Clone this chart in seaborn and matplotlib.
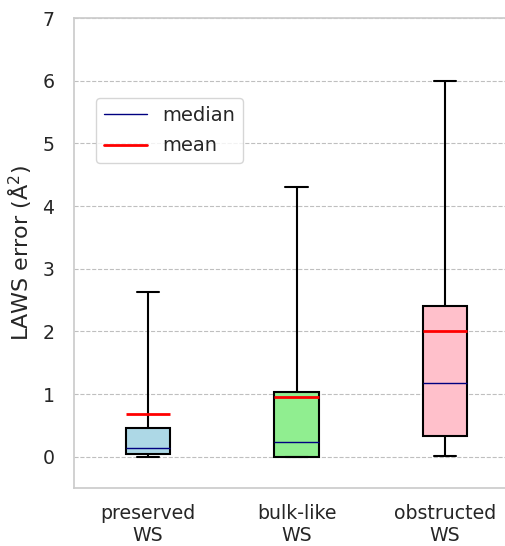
import numpy as np
import pandas as pd
import matplotlib
matplotlib.use("Agg")
import matplotlib.pyplot as plt
from matplotlib.lines import Line2D
import seaborn as sns

# five-number summaries (min, q1, median, q3, max)
categories = ['preserved\nWS', 'bulk-like\nWS', 'obstructed\nWS']
mins = [0.00, 0.00, 0.02]
q1s = [0.04, 0.00, 0.33]
medians = [0.14, 0.23, 1.18]
q3s = [0.46, 1.03, 2.41]
maxs = [2.63, 4.30, 6.00]
means = [0.68, 0.96, 2.01]
box_colors = ['lightblue', 'lightgreen', 'pink']

# with 5 points per group, the quartiles fall exactly on the given values
rows = []
for cat, a, b, c, d, e in zip(categories, mins, q1s, medians, q3s, maxs):
    for v in (a, b, c, d, e):
        rows.append({'group': cat, 'error': v})
df = pd.DataFrame(rows)

sns.set_theme(style="whitegrid", font_scale=1.2)
fig = plt.figure(figsize=(5.06, 5.46), dpi=100)
ax = fig.add_axes([0.146, 0.106, 0.88, 0.861])

sns.boxplot(data=df, x='group', y='error', hue='group', palette=box_colors,
            order=categories, width=0.3, whis=(0, 100), legend=False, ax=ax,
            saturation=1, linecolor='black', linewidth=1.5,
            medianprops={'color': 'navy', 'linewidth': 1.0},
            capprops={'color': 'black'})

for i, m in enumerate(means):
    ax.hlines(m, i - 0.15, i + 0.15, color='red', linewidth=2, zorder=5)

ax.set_xlim(-0.5, 2.5)
ax.set_ylim(-0.5, 7)
ax.set_xlabel('')
ax.set_ylabel('LAWS error (Å$^2$)', fontsize=16, labelpad=6)
ax.tick_params(axis='x', labelsize=13.6, pad=5.5)
ax.tick_params(axis='y', labelsize=13.6, pad=8)
ax.spines['right'].set_visible(False)
ax.xaxis.grid(False)
ax.yaxis.grid(True, linestyle='--', color='0.75', linewidth=0.8)

handles = [Line2D([0], [0], color='navy', lw=1.0, label='median'),
           Line2D([0], [0], color='red', lw=2, label='mean')]
ax.legend(handles=handles, loc='upper left', bbox_to_anchor=(0.05, 0.83),
          borderaxespad=0, fontsize=14, handlelength=2.2, labelspacing=0.6)

fig.savefig('out.png', dpi=100)
